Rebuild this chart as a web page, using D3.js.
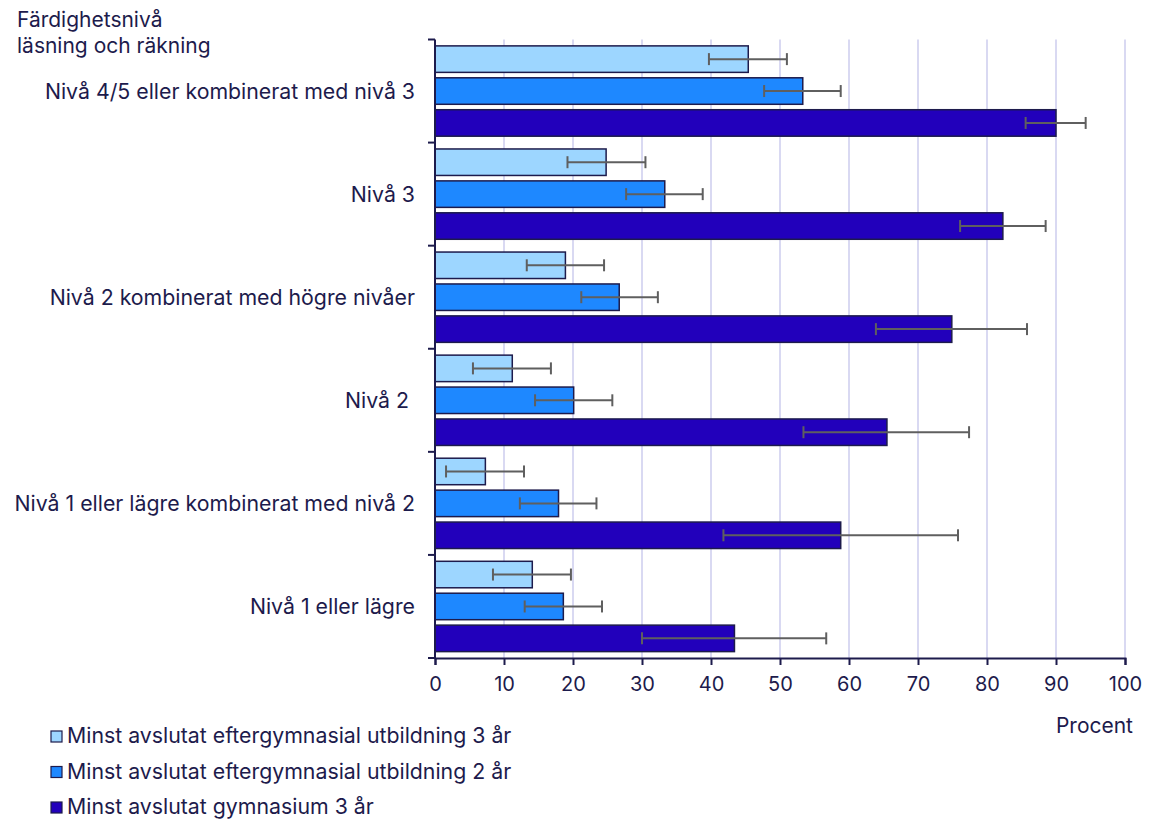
<!DOCTYPE html>
<html>
<head>
<meta charset="utf-8">
<script src="https://cdn.jsdelivr.net/npm/d3@7"></script>
<style>
  body { margin: 0; background: #fff; }
  svg text { font-family: Inter, "Noto Sans", sans-serif; fill: #1d1b4c; }
</style>
</head>
<body>
<svg id="chart" width="1150" height="819"></svg>
<script>
const categories = [
  "Nivå 4/5 eller kombinerat med nivå 3",
  "Nivå 3",
  "Nivå 2 kombinerat med högre nivåer",
  "Nivå 2 ",
  "Nivå 1 eller lägre kombinerat med nivå 2",
  "Nivå 1 eller lägre"
];
const seriesNames = [
  "Minst avslutat eftergymnasial utbildning 3 år",
  "Minst avslutat eftergymnasial utbildning 2 år",
  "Minst avslutat gymnasium 3 år"
];
const seriesColors = ["#9dd6ff", "#1e88ff", "#2200bb"];
const valuesPost3 = [45.4, 24.8, 18.9, 11.2, 7.3, 14.1];
const lowPost3    = [39.7, 19.2, 13.3, 5.5, 1.6, 8.4];
const highPost3   = [51.0, 30.5, 24.5, 16.8, 12.9, 19.7];
const valuesPost2 = [53.3, 33.3, 26.7, 20.1, 17.9, 18.6];
const lowPost2    = [47.7, 27.7, 21.2, 14.5, 12.3, 13.0];
const highPost2   = [58.8, 38.8, 32.3, 25.7, 23.4, 24.2];
const valuesGym3  = [90.0, 82.3, 74.9, 65.5, 58.8, 43.4];
const lowGym3     = [85.6, 76.1, 63.9, 53.4, 41.8, 30.0];
const highGym3    = [94.3, 88.5, 85.8, 77.4, 75.8, 56.7];
const xTicks = [0, 10, 20, 30, 40, 50, 60, 70, 80, 90, 100];
const yTitle = ["Färdighetsnivå", "läsning och räkning"];
const xTitle = "Procent";

const series = [
  { name: seriesNames[0], color: seriesColors[0], v: valuesPost3, lo: lowPost3, hi: highPost3 },
  { name: seriesNames[1], color: seriesColors[1], v: valuesPost2, lo: lowPost2, hi: highPost2 },
  { name: seriesNames[2], color: seriesColors[2], v: valuesGym3,  lo: lowGym3,  hi: highGym3 }
];

const svg = d3.select("#chart");
const pLeft = 435, pRight = 1125, pTop = 39.5, pBottom = 658;
const navy = "#1d1b4c";

const x = d3.scaleLinear().domain([0, 100]).range([pLeft, pRight]);
const y = d3.scaleBand().domain(categories).range([pTop, pBottom]).padding(0);
const yInner = d3.scaleBand().domain(d3.range(series.length)).range([0, y.bandwidth()])
  .paddingInner(0.17).paddingOuter(0.2);

// gridlines
svg.append("g").selectAll("line").data(xTicks.filter(d => d > 0)).join("line")
  .attr("x1", d => x(d)).attr("x2", d => x(d))
  .attr("y1", pTop).attr("y2", pBottom)
  .attr("stroke", "#d9d9f2").attr("stroke-width", 2);

// bars
const catG = svg.append("g").selectAll("g").data(categories).join("g")
  .attr("transform", c => `translate(0,${y(c)})`);

series.forEach((s, si) => {
  catG.append("rect")
    .attr("x", x(0))
    .attr("y", yInner(si))
    .attr("width", (c, ci) => x(s.v[ci]) - x(0))
    .attr("height", yInner.bandwidth())
    .attr("fill", s.color)
    .attr("stroke", navy)
    .attr("stroke-width", 1.5);
});

// error bars
series.forEach((s, si) => {
  const cy = yInner(si) + yInner.bandwidth() / 2;
  const eg = catG.append("g").attr("stroke", "#5f5f5f").attr("stroke-width", 2);
  eg.append("line")
    .attr("x1", (c, ci) => x(s.lo[ci])).attr("x2", (c, ci) => x(s.hi[ci]))
    .attr("y1", cy).attr("y2", cy);
  eg.append("line")
    .attr("x1", (c, ci) => x(s.lo[ci])).attr("x2", (c, ci) => x(s.lo[ci]))
    .attr("y1", cy - 6).attr("y2", cy + 6);
  eg.append("line")
    .attr("x1", (c, ci) => x(s.hi[ci])).attr("x2", (c, ci) => x(s.hi[ci]))
    .attr("y1", cy - 6).attr("y2", cy + 6);
});

// y axis line and boundary ticks
const bounds = categories.map(c => y(c)).concat([pBottom]);
svg.append("line").attr("x1", pLeft).attr("x2", pLeft).attr("y1", pTop).attr("y2", pBottom)
  .attr("stroke", navy).attr("stroke-width", 2);
svg.append("g").selectAll("line").data(bounds).join("line")
  .attr("x1", pLeft - 7).attr("x2", pLeft).attr("y1", d => d).attr("y2", d => d)
  .attr("stroke", navy).attr("stroke-width", 2);

// category labels
svg.append("g").selectAll("text").data(categories).join("text")
  .attr("x", 415).attr("y", c => y(c) + y.bandwidth() / 2)
  .attr("dy", "0.36em")
  .attr("text-anchor", "end")
  .attr("font-size", 21.3)
  .style("white-space", "pre")
  .text(c => c);

// x axis
const xAxis = d3.axisBottom(x).tickValues(xTicks).tickSize(7).tickPadding(12).tickFormat(d3.format("d"));
const gx = svg.append("g").attr("transform", `translate(0,${pBottom})`).call(xAxis);
gx.select(".domain").attr("stroke", navy).attr("stroke-width", 2);
gx.selectAll(".tick line").attr("stroke", navy).attr("stroke-width", 2);
gx.selectAll(".tick text").attr("font-size", 20).attr("fill", navy)
  .attr("font-family", "Inter, 'Noto Sans', sans-serif");

// axis titles
svg.append("g").selectAll("text").data(yTitle).join("text")
  .attr("x", 17).attr("y", (d, i) => 27 + i * 26)
  .attr("font-size", 21)
  .text(d => d);
svg.append("text").attr("x", 1133).attr("y", 733).attr("text-anchor", "end")
  .attr("font-size", 21).text(xTitle);

// legend
const lg = svg.append("g").selectAll("g").data(series).join("g")
  .attr("transform", (d, i) => `translate(51,${731 + i * 35.5})`);
lg.append("rect").attr("width", 11).attr("height", 11)
  .attr("fill", d => d.color).attr("stroke", navy).attr("stroke-width", 1.2);
lg.append("text").attr("x", 16).attr("y", 12).attr("font-size", 21.3).text(d => d.name);
</script>
</body>
</html>
